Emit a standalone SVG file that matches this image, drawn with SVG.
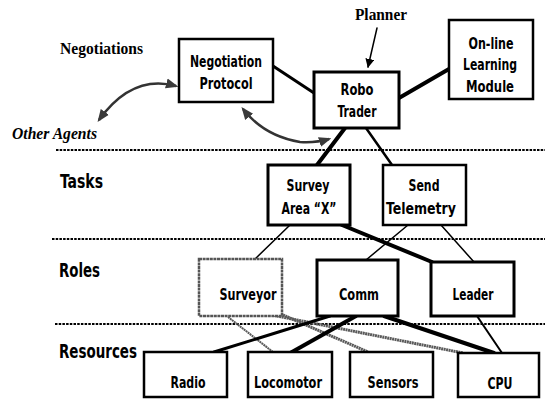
<svg xmlns="http://www.w3.org/2000/svg" width="545" height="399" viewBox="0 0 545 399">
<style>
.box{fill:#fff;stroke:#000;stroke-width:3}
.thin{stroke-width:2.5}
.gbox{fill:#fff;stroke:#555;stroke-width:2.5;stroke-dasharray:3 0.6}
.lbl{font-family:"Liberation Sans Narrow","DejaVu Sans Condensed","Liberation Sans",sans-serif;font-weight:bold;font-size:16px;fill:#000;text-anchor:middle}
.sec{font-family:"Liberation Sans Narrow","DejaVu Sans Condensed","Liberation Sans",sans-serif;font-weight:bold;font-size:20px;fill:#000}
.ser{font-family:"Liberation Serif","Times New Roman",serif;font-weight:bold;font-size:16px;fill:#000}
.sep{stroke:#000;stroke-width:2;stroke-dasharray:2.5 1.2;fill:none}
.c{stroke:#000;fill:none;stroke-linecap:round}
.g{stroke:#5a5a5a;fill:none;stroke-dasharray:2 0.5}
.curve{stroke:#333;stroke-width:2.5;fill:none}
</style>
<defs>
<marker id="ah" viewBox="0 0 10 10" refX="8" refY="5" markerWidth="5" markerHeight="5" orient="auto-start-reverse"><path d="M0,1 L10,5 L0,9 z" fill="#3a3a3a"/></marker>
<marker id="pa" viewBox="0 0 10 10" refX="9" refY="5" markerWidth="9" markerHeight="9" markerUnits="userSpaceOnUse" orient="auto"><path d="M0,0 L10,5 L0,10 z" fill="#000"/></marker>
</defs>

<g id="separators">
<line class="sep" x1="56" y1="150" x2="545" y2="150"/>
<line class="sep" x1="52" y1="239" x2="545" y2="239"/>
<line class="sep" x1="55" y1="324" x2="545" y2="324"/>
</g>

<g id="section-labels">
<text class="ser" x="60" y="54" textLength="83" lengthAdjust="spacingAndGlyphs">Negotiations</text>
<text class="ser" x="12" y="139" font-style="italic" textLength="85" lengthAdjust="spacingAndGlyphs">Other Agents</text>
<text class="ser" x="355" y="20" textLength="52" lengthAdjust="spacingAndGlyphs">Planner</text>
<text class="sec" x="60" y="188" textLength="43" lengthAdjust="spacingAndGlyphs">Tasks</text>
<text class="sec" x="59" y="277" textLength="41" lengthAdjust="spacingAndGlyphs">Roles</text>
<text class="sec" x="59" y="358" textLength="78" lengthAdjust="spacingAndGlyphs">Resources</text>
</g>

<g id="connectors">
<line class="c" x1="273" y1="66" x2="314" y2="93" stroke-width="3"/>
<line class="c" x1="399" y1="98" x2="449" y2="69" stroke-width="4"/>
<line class="c" x1="345" y1="128" x2="317" y2="165" stroke-width="4"/>
<line class="c" x1="366" y1="128" x2="392" y2="165" stroke-width="2.5"/>
<line class="c" x1="290" y1="225" x2="254" y2="260" stroke-width="1.5"/>
<line class="c" x1="342" y1="225" x2="432" y2="262" stroke-width="4"/>
<line class="c" x1="408" y1="225" x2="366" y2="260" stroke-width="1.5"/>
<line class="c" x1="441" y1="225" x2="474" y2="262" stroke-width="1.5"/>
<line class="g" x1="228" y1="317" x2="273" y2="352" stroke-width="2"/>
<line class="g" x1="283" y1="315" x2="368" y2="352" stroke-width="3"/>
<line class="g" x1="272" y1="315" x2="463" y2="353" stroke-width="3"/>
<line class="c" x1="330" y1="316" x2="214" y2="352" stroke-width="3"/>
<line class="c" x1="356" y1="316" x2="292" y2="352" stroke-width="4"/>
<line class="c" x1="384" y1="316" x2="494" y2="353" stroke-width="4"/>
<line class="c" x1="477" y1="316" x2="502" y2="353" stroke-width="2"/>
<line class="c" x1="377" y1="28" x2="368" y2="67" stroke-width="1.5" marker-end="url(#pa)"/>
<path class="curve" d="M176 86 Q132 74 99 120" marker-start="url(#ah)" marker-end="url(#ah)"/>
<path class="curve" d="M243 109 Q264 136 300 142 Q316 143 329 139" marker-start="url(#ah)" marker-end="url(#ah)"/>
</g>

<g id="negotiation-protocol">
<rect class="box thin" x="179" y="39" width="94" height="63"/>
<text class="lbl" x="226" y="67" textLength="72" lengthAdjust="spacingAndGlyphs">Negotiation</text>
<text class="lbl" x="226" y="89" textLength="53" lengthAdjust="spacingAndGlyphs">Protocol</text>
</g>
<g id="robo-trader">
<rect class="box" x="314" y="72" width="85" height="56"/>
<text class="lbl" x="357" y="95" textLength="33" lengthAdjust="spacingAndGlyphs">Robo</text>
<text class="lbl" x="357" y="117" textLength="39" lengthAdjust="spacingAndGlyphs">Trader</text>
</g>
<g id="learning-module">
<rect class="box thin" x="449" y="20" width="84" height="79"/>
<text class="lbl" x="491" y="49" textLength="45" lengthAdjust="spacingAndGlyphs">On-line</text>
<text class="lbl" x="490" y="70" textLength="54" lengthAdjust="spacingAndGlyphs">Learning</text>
<text class="lbl" x="490" y="92" textLength="48" lengthAdjust="spacingAndGlyphs">Module</text>
</g>
<g id="survey-area">
<rect class="box" x="268" y="165" width="82" height="60"/>
<text class="lbl" x="308" y="191" textLength="43" lengthAdjust="spacingAndGlyphs">Survey</text>
<text class="lbl" x="309" y="214" textLength="55" lengthAdjust="spacingAndGlyphs">Area “X”</text>
</g>
<g id="send-telemetry">
<rect class="box thin" x="383" y="165" width="83" height="60"/>
<text class="lbl" x="424" y="191" textLength="31" lengthAdjust="spacingAndGlyphs">Send</text>
<text class="lbl" x="421" y="214" textLength="70" lengthAdjust="spacingAndGlyphs">Telemetry</text>
</g>
<g id="surveyor">
<rect class="gbox" x="199" y="259" width="83" height="57"/>
<text class="lbl" x="248" y="300" textLength="57" lengthAdjust="spacingAndGlyphs">Surveyor</text>
</g>
<g id="comm">
<rect class="box" x="317" y="260" width="81" height="56" stroke-width="4"/>
<text class="lbl" x="359" y="300" textLength="40" lengthAdjust="spacingAndGlyphs">Comm</text>
</g>
<g id="leader">
<rect class="box" x="431" y="262" width="83" height="54" stroke-width="3.5"/>
<text class="lbl" x="473" y="300" textLength="41" lengthAdjust="spacingAndGlyphs">Leader</text>
</g>
<g id="radio">
<rect class="box thin" x="144" y="352" width="83" height="45"/>
<text class="lbl" x="188" y="388" textLength="35" lengthAdjust="spacingAndGlyphs">Radio</text>
</g>
<g id="locomotor">
<rect class="box thin" x="248" y="352" width="84" height="45"/>
<text class="lbl" x="288" y="388" textLength="68" lengthAdjust="spacingAndGlyphs">Locomotor</text>
</g>
<g id="sensors">
<rect class="box thin" x="350" y="352" width="83" height="45"/>
<text class="lbl" x="393" y="388" textLength="51" lengthAdjust="spacingAndGlyphs">Sensors</text>
</g>
<g id="cpu">
<rect class="box thin" x="458" y="353" width="81" height="44"/>
<text class="lbl" x="500" y="389" textLength="25" lengthAdjust="spacingAndGlyphs">CPU</text>
</g>
</svg>
